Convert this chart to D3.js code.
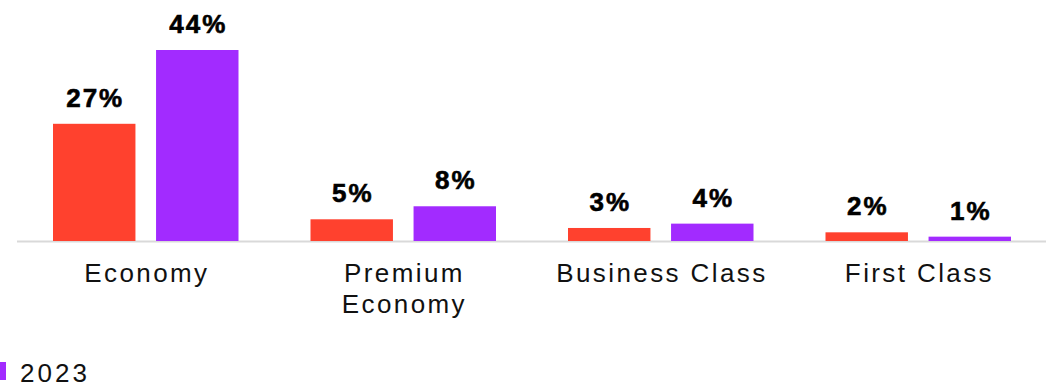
<!DOCTYPE html>
<html>
<head>
<meta charset="utf-8">
<script src="https://cdn.jsdelivr.net/npm/d3@7"></script>
<style>
  html, body { margin: 0; padding: 0; background: #fff; }
  svg { display: block; }
  text { font-family: "Liberation Sans", Arial, sans-serif; }
</style>
</head>
<body>
<svg id="chart" width="1046" height="385"></svg>
<script>
// Share of travellers by cabin class
const categories = ["Economy", "Premium Economy", "Business Class", "First Class"];
const categoryLines = [["Economy"], ["Premium", "Economy"], ["Business Class"], ["First Class"]];
const seriesNames = ["2022", "2023"];
const values2022 = [27, 5, 3, 2];
const values2023 = [44, 8, 4, 1];
const colors = ["#FF412E", "#A22BFF"];

const svg = d3.select("#chart");
const baseline = 241;

const x0 = d3.scaleBand().domain(categories).range([17, 1047]).paddingInner(0).paddingOuter(0);
const x1 = d3.scaleBand().domain(seriesNames).range([36, x0.bandwidth() - 36]).paddingInner(0.2).paddingOuter(0);
const y = d3.scaleLinear().domain([0, 44]).range([baseline, 50]);

const rows = categories.map((c, i) => ({ cat: c, vals: [values2022[i], values2023[i]] }));

// axis baseline
svg.append("line")
  .attr("x1", 17).attr("x2", 1046)
  .attr("y1", baseline + 0.5).attr("y2", baseline + 0.5)
  .attr("stroke", "#d9d9d9").attr("stroke-width", 2);

const g = svg.selectAll("g.cat").data(rows).join("g")
  .attr("class", "cat")
  .attr("transform", d => `translate(${x0(d.cat)},0)`);

g.selectAll("rect").data(d => d.vals.map((v, j) => ({ s: seriesNames[j], v, j })))
  .join("rect")
  .attr("x", d => x1(d.s))
  .attr("width", x1.bandwidth())
  .attr("y", d => y(d.v))
  .attr("height", d => baseline - y(d.v))
  .attr("fill", d => colors[d.j]);

// value labels above each bar
g.selectAll("text.val").data(d => d.vals.map((v, j) => ({ s: seriesNames[j], v, j })))
  .join("text")
  .attr("class", "val")
  .attr("x", d => x1(d.s) + x1.bandwidth() / 2 + 1)
  .attr("y", d => y(d.v) - 17)
  .attr("text-anchor", "middle")
  .attr("font-size", 26)
  .attr("font-weight", 700)
  .attr("letter-spacing", 2)
  .attr("fill", "#000")
  .attr("stroke", "#000")
  .attr("stroke-width", 0.6)
  .text(d => d.v + "%");

// category labels
g.each(function(d, i) {
  const cx = x0.bandwidth() / 2 + 1.2;
  const t = d3.select(this).append("text")
    .attr("x", cx)
    .attr("y", 282)
    .attr("text-anchor", "middle")
    .attr("font-size", 26)
    .attr("letter-spacing", 2.4)
    .attr("fill", "#111");
  categoryLines[i].forEach((line, k) => {
    t.append("tspan").attr("x", cx).attr("dy", k === 0 ? 0 : 31).text(line);
  });
});

// legend
const legend = svg.append("g").attr("transform", "translate(0,362)");
legend.append("rect").attr("x", 0).attr("y", 0).attr("width", 6).attr("height", 18).attr("fill", colors[1]);
legend.append("text").attr("x", 20).attr("y", 20).attr("font-size", 26)
  .attr("letter-spacing", 3).attr("fill", "#111").text(seriesNames[1]);
</script>
</body>
</html>
